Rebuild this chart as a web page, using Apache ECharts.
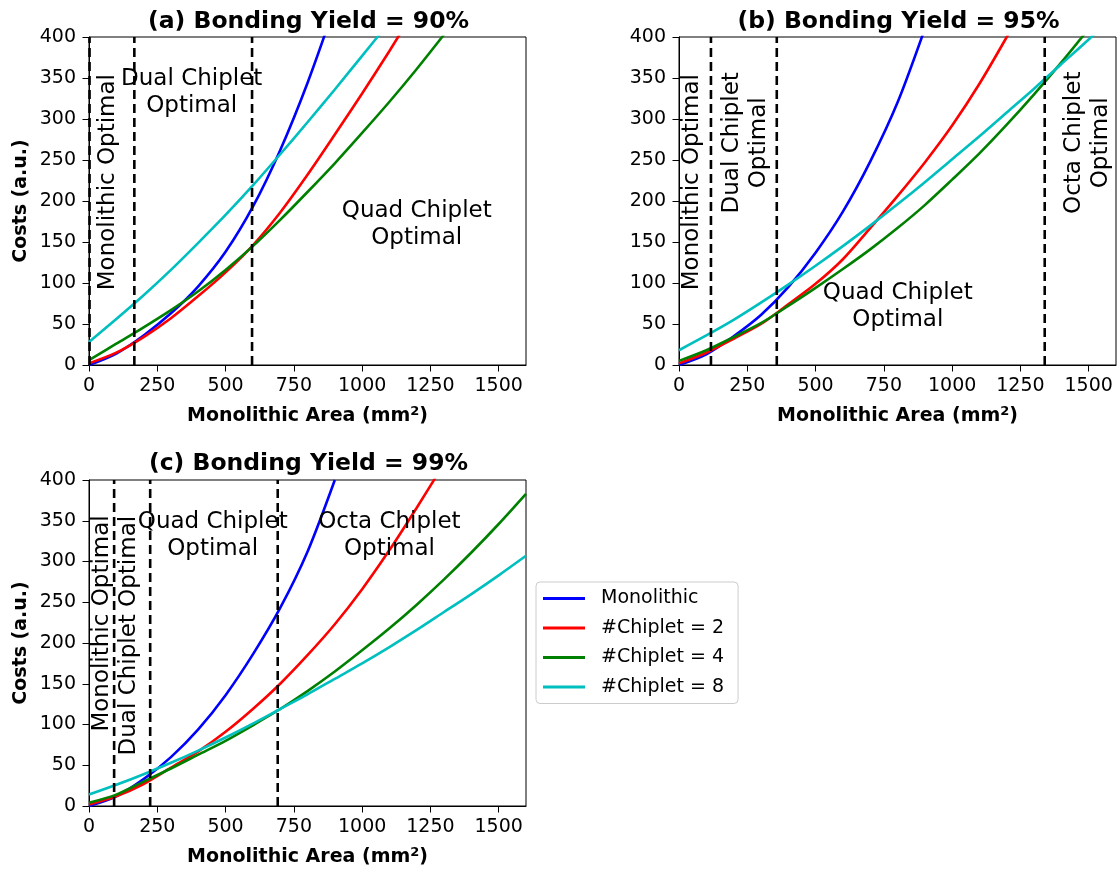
<!DOCTYPE html>
<html><head><meta charset="utf-8">
<script src="https://cdn.jsdelivr.net/npm/echarts@6/dist/echarts.min.js"></script>
<style>html,body{margin:0;padding:0;background:#fff}#c{width:1120px;height:873px}</style>
</head><body><div id="c"></div>
<script>
// ---------- data ----------
const areas = [0,100,200,300,400,500,600,700,800,900,1000,1100,1200,1300,1400,1500,1600];
const xTicks = [0,250,500,750,1000,1250,1500];
const yTicks = [0,50,100,150,200,250,300,350,400];
const seriesNames = ['Monolithic', '#Chiplet = 2', '#Chiplet = 4', '#Chiplet = 8'];
const titles = ['(a) Bonding Yield = 90%', '(b) Bonding Yield = 95%', '(c) Bonding Yield = 99%'];

// (a) bonding yield 90%
const monoA  = [0,14,36,63,96,138,193,262,344,438];
const chip2A = [2,15,34,57,84,113,146,186,232,281,331,383,437];
const chip4A = [6,26,46,67,90,116,145,177,211,246,283,321,361,403];
const chip8A = [28,56,85,116,149,183,219,257,296,336,377,418];
const boundsA = [2,166,597];

// (b) bonding yield 95%
const monoB  = [0,13,35,61,95,137,187,248,320,410];
const chip2B = [2,15,32,50,74,99,129,167,206,247,292,343,400,460];
const chip4B = [5,18,34,51,72,94,117,141,167,195,226,258,293,330,369,410];
const chip8B = [18,36,55,76,98,121,145,170,196,223,251,279,308,337,367,397,428];
const boundsB = [117,358,1339];

// (c) bonding yield 99%
const monoC  = [0,12,33,60,94,136,186,243,312,400];
const chip2C = [2,12,27,47,67,91,119,150,185,223,266,314,366,420];
const chip4C = [4,14,30,46,63,80,99,119,141,165,191,218,247,278,311,346,383];
const chip8C = [14,26,39,53,68,84,101,119,137,156,175,195,216,238,260,283,307];
const boundsC = [92,224,691];

// annotations: [panel, area, cost, text, rotate]
const annotations = [
  [0, 68, 223, 'Monolithic Optimal', 90],
  [0, 376, 332, 'Dual Chiplet\nOptimal', 0],
  [0, 1200, 171, 'Quad Chiplet\nOptimal', 0],
  [1, 46, 223, 'Monolithic Optimal', 90],
  [1, 242, 271, 'Dual Chiplet\nOptimal', 90],
  [1, 801, 71, 'Quad Chiplet\nOptimal', 0],
  [1, 1494, 271, 'Octa Chiplet\nOptimal', 90],
  [2, 46, 224, 'Monolithic Optimal', 90],
  [2, 148, 209, 'Dual Chiplet Optimal', 90],
  [2, 453, 332, 'Quad Chiplet\nOptimal', 0],
  [2, 1100, 332, 'Octa Chiplet\nOptimal', 0]
];

// ---------- build ----------
const colors = ['#0000ff', '#ff0000', '#008000', '#00bfbf'];
const panels = [
  {vals: [monoA, chip2A, chip4A, chip8A], bounds: boundsA, grid: {left: 89, top: 37, width: 437, height: 328}, ylab: true},
  {vals: [monoB, chip2B, chip4B, chip8B], bounds: boundsB, grid: {left: 679, top: 37, width: 437, height: 328}, ylab: false},
  {vals: [monoC, chip2C, chip4C, chip8C], bounds: boundsC, grid: {left: 89, top: 480, width: 437, height: 326}, ylab: true}
];
const FONT = 'DejaVu Sans';
const grids = [], xAxes = [], yAxes = [], series = [], titleOpts = [];
const titleTops = [5, 5, 447];
panels.forEach((p, gi) => {
  grids.push(Object.assign({show: true, borderColor: '#000', borderWidth: 1, backgroundColor: 'transparent'}, p.grid));
  titleOpts.push({
    text: titles[gi], left: p.grid.left + p.grid.width / 2 - 4, top: titleTops[gi], textAlign: 'center',
    textStyle: {fontFamily: FONT, fontSize: 23.5, fontWeight: 'bold', color: '#000'}
  });
  xAxes.push({
    gridIndex: gi, type: 'value', min: 0, max: 1600, interval: 250,
    axisLine: {show: true, onZero: false, lineStyle: {color: '#000', width: 1}},
    axisTick: {show: true, length: 6.5, lineStyle: {color: '#000'}, customValues: xTicks},
    axisLabel: {fontFamily: FONT, fontSize: 19, color: '#000', margin: 11.5, customValues: xTicks,
      formatter: v => String(v)},
    splitLine: {show: false},
    name: 'Monolithic Area (mm{s|2})', nameLocation: 'middle', nameGap: 40,
    nameTextStyle: {fontFamily: FONT, fontSize: 19, fontWeight: 'bold', color: '#000', lineHeight: 22,
      rich: {s: {fontFamily: FONT, fontSize: 13, color: '#000', verticalAlign: 'top', lineHeight: 22}}}
  });
  yAxes.push({
    gridIndex: gi, type: 'value', min: 0, max: 400, interval: 50,
    axisLine: {show: true, onZero: false, lineStyle: {color: '#000', width: 1}},
    axisTick: {show: true, length: 6.5, lineStyle: {color: '#000'}},
    axisLabel: {fontFamily: FONT, fontSize: 19, color: '#000', margin: 13, formatter: v => String(v)},
    splitLine: {show: false},
    name: p.ylab ? 'Costs (a.u.)' : '', nameLocation: 'middle', nameGap: 58, nameRotate: 90,
    nameTextStyle: {fontFamily: FONT, fontSize: 19, fontWeight: 'bold', color: '#000'}
  });
  p.vals.forEach((vals, si) => {
    series.push({
      type: 'line', name: seriesNames[si], xAxisIndex: gi, yAxisIndex: gi,
      data: vals.map((v, i) => [areas[i], v]),
      showSymbol: false, symbol: 'none', smooth: 0.3, clip: true,
      lineStyle: {color: colors[si], width: 2.6}, itemStyle: {color: colors[si]},
      silent: true, z: 2
    });
  });
  p.bounds.forEach(b => {
    series.push({
      type: 'line', xAxisIndex: gi, yAxisIndex: gi, data: [[b, 0], [b, 400]],
      showSymbol: false, symbol: 'none', clip: true,
      lineStyle: {color: '#000', width: 2.6, type: [9, 5]}, silent: true, z: 3
    });
  });
});

const chart = echarts.init(document.getElementById('c'), null, {renderer: 'canvas'});
chart.setOption({
  animation: false,
  backgroundColor: '#fff',
  title: titleOpts,
  grid: grids, xAxis: xAxes, yAxis: yAxes, series: series,
  legend: {
    data: seriesNames, orient: 'vertical', left: 536, top: 582, icon: 'rect',
    itemWidth: 42, itemHeight: 3, itemGap: 8.5, selectedMode: false,
    padding: [6, 14, 6, 7], borderColor: '#cccccc', borderWidth: 1, borderRadius: 4, backgroundColor: '#fff',
    textStyle: {fontFamily: FONT, fontSize: 19, color: '#000', lineHeight: 21, padding: [0, 0, 0, 11]}
  }
});
// annotation texts placed through the axes' own scales
const graphics = annotations.map(a => {
  const pt = chart.convertToPixel({gridIndex: a[0]}, [a[1], a[2]]);
  return {
    type: 'text', x: pt[0], y: pt[1], rotation: a[4] * Math.PI / 180, z: 10, silent: true,
    style: {text: a[3], fill: '#000', font: '23px "DejaVu Sans"', align: 'center', verticalAlign: 'middle', lineHeight: 27}
  };
});
chart.setOption({graphic: graphics});
</script></body></html>
